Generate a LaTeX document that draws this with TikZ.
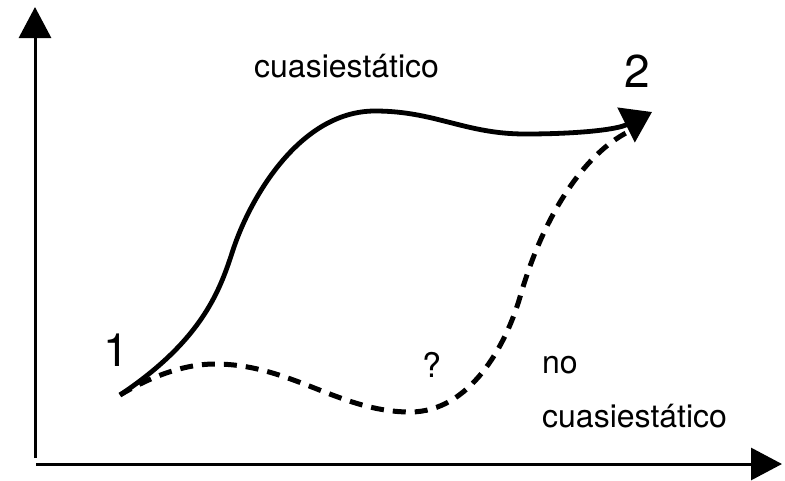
\documentclass[tikz,border=0pt]{standalone}
\usepackage{fontspec}
\setmainfont{TeX Gyre Heros}
\usetikzlibrary{arrows.meta}

\tikzset{
  axis/.style={line width=3pt, -{Triangle[length=31pt,width=32pt]}},
  quasi/.style={line width=4.8pt, -{Triangle[length=29pt,width=38pt]}},
  nonquasi/.style={line width=5pt, dash pattern=on 13pt off 9pt},
  label/.style={inner sep=0pt, anchor=base west, font=\fontsize{32}{38}\selectfont},
  statelabel/.style={inner sep=0pt, anchor=base west, font=\fontsize{46}{54}\selectfont}
}

\begin{document}
\begin{tikzpicture}[x=1pt, y=-1pt]
  \useasboundingbox (0,0) rectangle (785,480);

  % axes
  \coordinate (ybot) at (35,458);
  \coordinate (ytop) at (35,7);
  \coordinate (xleft) at (36,464);
  \coordinate (xright) at (782,464);
  \draw[axis] (ybot) -- (ytop);
  \draw[axis] (xleft) -- (xright);

  % states and path points
  \coordinate (s1) at (120,395);
  \coordinate (s2) at (652,112);
  \coordinate (q1) at (233,250);
  \coordinate (q2) at (375,111);
  \coordinate (q3) at (525,134);
  \coordinate (n1) at (215,364);
  \coordinate (n2) at (410,412);
  \coordinate (n3) at (520,297);
  \coordinate (nend) at (632,130);

  % irreversible (dashed) process
  \draw[nonquasi] (s1)
      .. controls (145,380) and (180,364) .. (n1)
      .. controls (290,364) and (340,412) .. (n2)
      .. controls (470,412) and (506,345) .. (n3)
      .. controls (545,210) and (588,150) .. (nend);

  % quasi-static process
  \draw[quasi] (s1)
      .. controls (204,339) and (220.6,288) .. (q1)
      .. controls (250,198) and (300,111) .. (q2)
      .. controls (435,111) and (465,134) .. (q3)
      .. controls (575,134) and (616,130) .. (s2);

  % labels
  \node[label] (tquasi) at (254,77) {cuasiestático};
  \node[statelabel] (t2) at (624,87) {2};
  \node[statelabel] (t1) at (103,366) {1};
  \node[label, font=\fontsize{34}{40}\selectfont] (tq) at (422,377) {?};
  \node[label] (tno) at (542,373) {no};
  \node[label] (tnoquasi) at (542,427) {cuasiestático};
\end{tikzpicture}
\end{document}
